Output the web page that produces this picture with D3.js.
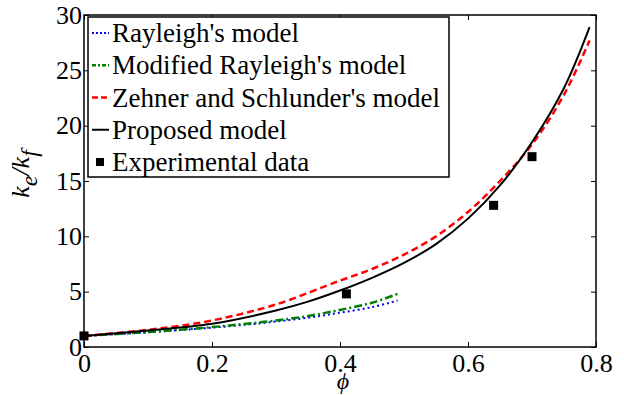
<!DOCTYPE html>
<html>
<head>
<meta charset="utf-8">
<script src="https://cdn.jsdelivr.net/npm/d3@7"></script>
<style>
  body { margin: 0; background: #fff; }
  .axis path { display: none; }
  .axis line { stroke: #000; stroke-width: 1; }
</style>
</head>
<body>
<svg id="chart" width="624" height="395"></svg>
<script>
// values
var rayleighPhi = [0, 0.05, 0.1, 0.15, 0.2, 0.25, 0.3, 0.35, 0.4, 0.45, 0.49];
var rayleighK = [1, 1.16, 1.33, 1.53, 1.75, 2.0, 2.3, 2.65, 3.1, 3.6, 4.2];

var modRayleighPhi = [0, 0.05, 0.1, 0.15, 0.2, 0.25, 0.3, 0.35, 0.4, 0.45, 0.49];
var modRayleighK = [1, 1.17, 1.35, 1.56, 1.8, 2.08, 2.4, 2.8, 3.35, 4.0, 4.8];

var zehnerPhi = [0, 0.1, 0.2, 0.3, 0.4, 0.45, 0.5, 0.55, 0.6, 0.65, 0.7, 0.75, 0.79];
var zehnerK = [1, 1.55, 2.4, 3.85, 6.0, 7.05, 8.35, 10.0, 12.2, 15.0, 18.3, 22.8, 27.7];

var proposedPhi = [0, 0.1, 0.2, 0.3, 0.35, 0.4, 0.45, 0.5, 0.55, 0.6, 0.65, 0.7, 0.75, 0.79];
var proposedK = [1, 1.5, 2.1, 3.3, 4.1, 5.1, 6.25, 7.6, 9.3, 11.6, 14.6, 18.5, 23.4, 28.9];

var expPhi = [0, 0.41, 0.64, 0.70];
var expK = [1, 4.8, 12.8, 17.2];

var xTicks = [0, 0.2, 0.4, 0.6, 0.8];
var yTicks = [0, 5, 10, 15, 20, 25, 30];

var legendLabels = [
  "Rayleigh's model",
  "Modified Rayleigh's model",
  "Zehner and Schlunder's model",
  "Proposed model",
  "Experimental data"
];

var serif = "Liberation Serif";

var svg = d3.select("#chart"),
  margin = { top: 15, right: 28, bottom: 48, left: 84 },
  width = +svg.attr("width") - margin.left - margin.right,
  height = +svg.attr("height") - margin.top - margin.bottom;

var x = d3.scaleLinear().domain([0, 0.8]).range([0, width]);
var y = d3.scaleLinear().domain([0, 30]).range([height, 0]);

var g = svg.append("g")
  .attr("transform", "translate(" + margin.left + "," + margin.top + ")");

// axes, ticks pointing inward like matlab
g.append("g")
  .attr("class", "axis")
  .attr("transform", "translate(0," + height + ")")
  .call(d3.axisBottom(x).tickValues(xTicks).tickSize(-5).tickPadding(7)
    .tickFormat(function(d) { return d === 0 ? "0" : d3.format(".1f")(d); }))
  .selectAll("text")
  .style("font-family", serif)
  .style("font-size", "26px")
  .style("fill", "#000");

g.append("g")
  .attr("class", "axis")
  .call(d3.axisTop(x).tickValues(xTicks).tickSize(-5).tickFormat(""));

g.append("g")
  .attr("class", "axis")
  .call(d3.axisLeft(y).tickValues(yTicks).tickSize(-5).tickPadding(2))
  .selectAll("text")
  .style("font-family", serif)
  .style("font-size", "26px")
  .style("fill", "#000");

g.append("g")
  .attr("class", "axis")
  .attr("transform", "translate(" + width + ",0)")
  .call(d3.axisRight(y).tickValues(yTicks).tickSize(-5).tickFormat(""));

g.append("rect")
  .attr("width", width)
  .attr("height", height)
  .attr("fill", "none")
  .attr("stroke", "#000")
  .attr("stroke-width", 1.5);

function toPoints(phis, ks) {
  return phis.map(function(p, i) { return [p, ks[i]]; });
}

var line = d3.line()
  .x(function(d) { return x(d[0]); })
  .y(function(d) { return y(d[1]); })
  .curve(d3.curveCatmullRom);

var series = [
  { pts: toPoints(rayleighPhi, rayleighK), color: "#0000ff", dash: "2,3", w: 2 },
  { pts: toPoints(modRayleighPhi, modRayleighK), color: "#008000", dash: "8,3,2,3", w: 2.5 },
  { pts: toPoints(zehnerPhi, zehnerK), color: "#ff0000", dash: "7,4", w: 2.5 },
  { pts: toPoints(proposedPhi, proposedK), color: "#000000", dash: null, w: 2 }
];

series.forEach(function(s) {
  g.append("path")
    .datum(s.pts)
    .attr("d", line)
    .attr("fill", "none")
    .attr("stroke", s.color)
    .attr("stroke-width", s.w)
    .attr("stroke-dasharray", s.dash);
});

g.selectAll(".exp")
  .data(toPoints(expPhi, expK))
  .enter()
  .append("rect")
  .attr("class", "exp")
  .attr("x", function(d) { return x(d[0]) - 4.5; })
  .attr("y", function(d) { return y(d[1]) - 4.5; })
  .attr("width", 9)
  .attr("height", 9)
  .attr("fill", "#000");

// axis titles
svg.append("text")
  .attr("x", margin.left + width / 2 + 3)
  .attr("y", 389)
  .attr("text-anchor", "middle")
  .style("font-family", serif)
  .style("font-size", "24px")
  .style("font-style", "italic")
  .text("\u03d5");

var yl = svg.append("text")
  .attr("transform", "translate(29,174) rotate(-90)")
  .attr("text-anchor", "middle")
  .style("font-family", serif)
  .style("font-size", "26px")
  .style("font-style", "italic");
yl.append("tspan").text("k");
yl.append("tspan").attr("dy", 8).style("font-size", "24px").text("e");
yl.append("tspan").attr("dy", -8).text("/k");
yl.append("tspan").attr("dy", 8).style("font-size", "24px").text("f");

// legend
var leg = svg.append("g").attr("transform", "translate(88,17)");
leg.append("rect")
  .attr("width", 361)
  .attr("height", 160)
  .attr("fill", "#fff")
  .attr("stroke", "#000")
  .attr("stroke-width", 1.5);

var rowY = d3.scalePoint().domain(legendLabels).range([16, 145]);

legendLabels.forEach(function(label, i) {
  var yy = rowY(label);
  if (i < 4) {
    leg.append("line")
      .attr("x1", 4).attr("x2", 21)
      .attr("y1", yy).attr("y2", yy)
      .attr("stroke", series[i].color)
      .attr("stroke-width", series[i].w)
      .attr("stroke-dasharray", i === 0 ? "2,2" : i === 1 ? "4,2,2,2" : i === 2 ? "6,3" : null);
  } else {
    leg.append("rect")
      .attr("x", 8).attr("y", yy - 4)
      .attr("width", 8).attr("height", 8)
      .attr("fill", "#000");
  }
  leg.append("text")
    .attr("x", 24)
    .attr("y", yy + 9)
    .style("font-family", serif)
    .style("font-size", "27px")
    .text(label);
});
</script>
</body>
</html>
